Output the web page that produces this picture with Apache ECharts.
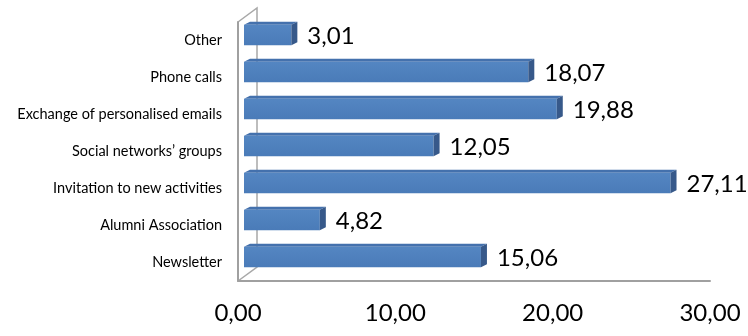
<!DOCTYPE html>
<html>
<head>
<meta charset="utf-8">
<script src="https://cdn.jsdelivr.net/npm/echarts@6/dist/echarts.min.js"></script>
<style>
  html, body { margin: 0; padding: 0; background: #fff; }
  #chart { width: 748px; height: 336px; }
</style>
</head>
<body>
<div id="chart"></div>
<script>
// Contact channels, share in percent (bottom to top on the chart)
const categories = [
  'Newsletter',
  'Alumni Association',
  'Invitation to new activities',
  'Social networks\u2019 groups',
  'Exchange of personalised emails',
  'Phone calls',
  'Other'
];
const values = [15.06, 4.82, 27.11, 12.05, 19.88, 18.07, 3.01];
const axisMin = 0;
const axisMax = 30;
const axisStep = 10;

const FONT = 'Lato, "Open Sans", sans-serif';
const fmt = v => v.toFixed(2).replace('.', ',');

// Back plane (bars) and front plane (axes) of the pseudo-3D box
const back = { left: 244, top: 15, width: 472, height: 259 };
const front = { left: 238, top: 22, width: 472, height: 259 };
const wallX = 257, wallTop = 8, wallBottom = 267;

const chart = echarts.init(document.getElementById('chart'), null, { renderer: 'canvas' });

function renderBar(params, api) {
  const idx = api.value(0);
  const val = api.value(1);
  const p0 = api.coord([0, idx]);
  const p1 = api.coord([val, idx]);
  const band = api.size([0, 1])[1];
  const cy = p0[1];
  const depthX = 6, depthY = 3;
  const faceH = band * 0.56;
  const ft = cy - faceH / 2 + 1.5;
  const fb = ft + faceH;
  const x0 = p0[0], x1 = p1[0];
  return {
    type: 'group',
    children: [
      {
        type: 'polygon',
        shape: { points: [[x0, ft], [x1, ft], [x1 + depthX, ft - depthY], [x0 + depthX, ft - depthY]] },
        style: { fill: '#4471ad' }
      },
      {
        type: 'rect',
        shape: { x: x0, y: ft, width: x1 - x0, height: fb - ft },
        style: {
          fill: new echarts.graphic.LinearGradient(0, 0, 0, 1, [
            { offset: 0, color: '#5486c2' },
            { offset: 1, color: '#4a7bb8' }
          ])
        }
      },
      {
        type: 'polygon',
        shape: { points: [[x1, ft], [x1 + depthX, ft - depthY], [x1 + depthX, fb - depthY], [x1, fb]] },
        style: { fill: '#37598a' }
      },
      {
        type: 'text',
        x: x1 + 16,
        y: cy + 3,
        style: {
          text: fmt(val),
          fill: '#000',
          font: '24px ' + FONT,
          align: 'left',
          verticalAlign: 'middle'
        }
      }
    ]
  };
}

const option = {
  animation: false,
  backgroundColor: '#ffffff',
  grid: [
    Object.assign({}, back, { containLabel: false }),
    Object.assign({}, front, { containLabel: false })
  ],
  xAxis: [
    { gridIndex: 0, type: 'value', min: axisMin, max: axisMax, interval: axisStep, show: false },
    {
      gridIndex: 1, type: 'value', min: axisMin, max: axisMax, interval: axisStep,
      axisLine: { show: true, lineStyle: { color: '#a0a0a0', width: 2 } },
      axisTick: { show: false },
      splitLine: { show: false },
      axisLabel: {
        formatter: v => fmt(v),
        color: '#000',
        fontFamily: FONT,
        fontSize: 24,
        margin: 20
      }
    }
  ],
  yAxis: [
    { gridIndex: 0, type: 'category', data: categories, show: false },
    {
      gridIndex: 1, type: 'category', data: categories,
      axisLine: { show: true, lineStyle: { color: '#a0a0a0', width: 2 } },
      axisTick: { show: false },
      axisLabel: {
        color: '#000',
        fontFamily: FONT,
        fontSize: 14.5,
        margin: 16
      }
    }
  ],
  graphic: [
    {
      type: 'polyline',
      z: 0,
      shape: { points: [
        [front.left, front.top], [wallX, wallTop], [wallX, wallBottom],
        [front.left, front.top + front.height]
      ] },
      style: { stroke: '#a8a8a8', lineWidth: 1.5, fill: null }
    }
  ],
  series: [
    {
      type: 'custom',
      xAxisIndex: 0,
      yAxisIndex: 0,
      z: 5,
      renderItem: renderBar,
      data: values.map((v, i) => [i, v]),
      encode: { x: 1, y: 0 }
    }
  ]
};

chart.setOption(option);
</script>
</body>
</html>
